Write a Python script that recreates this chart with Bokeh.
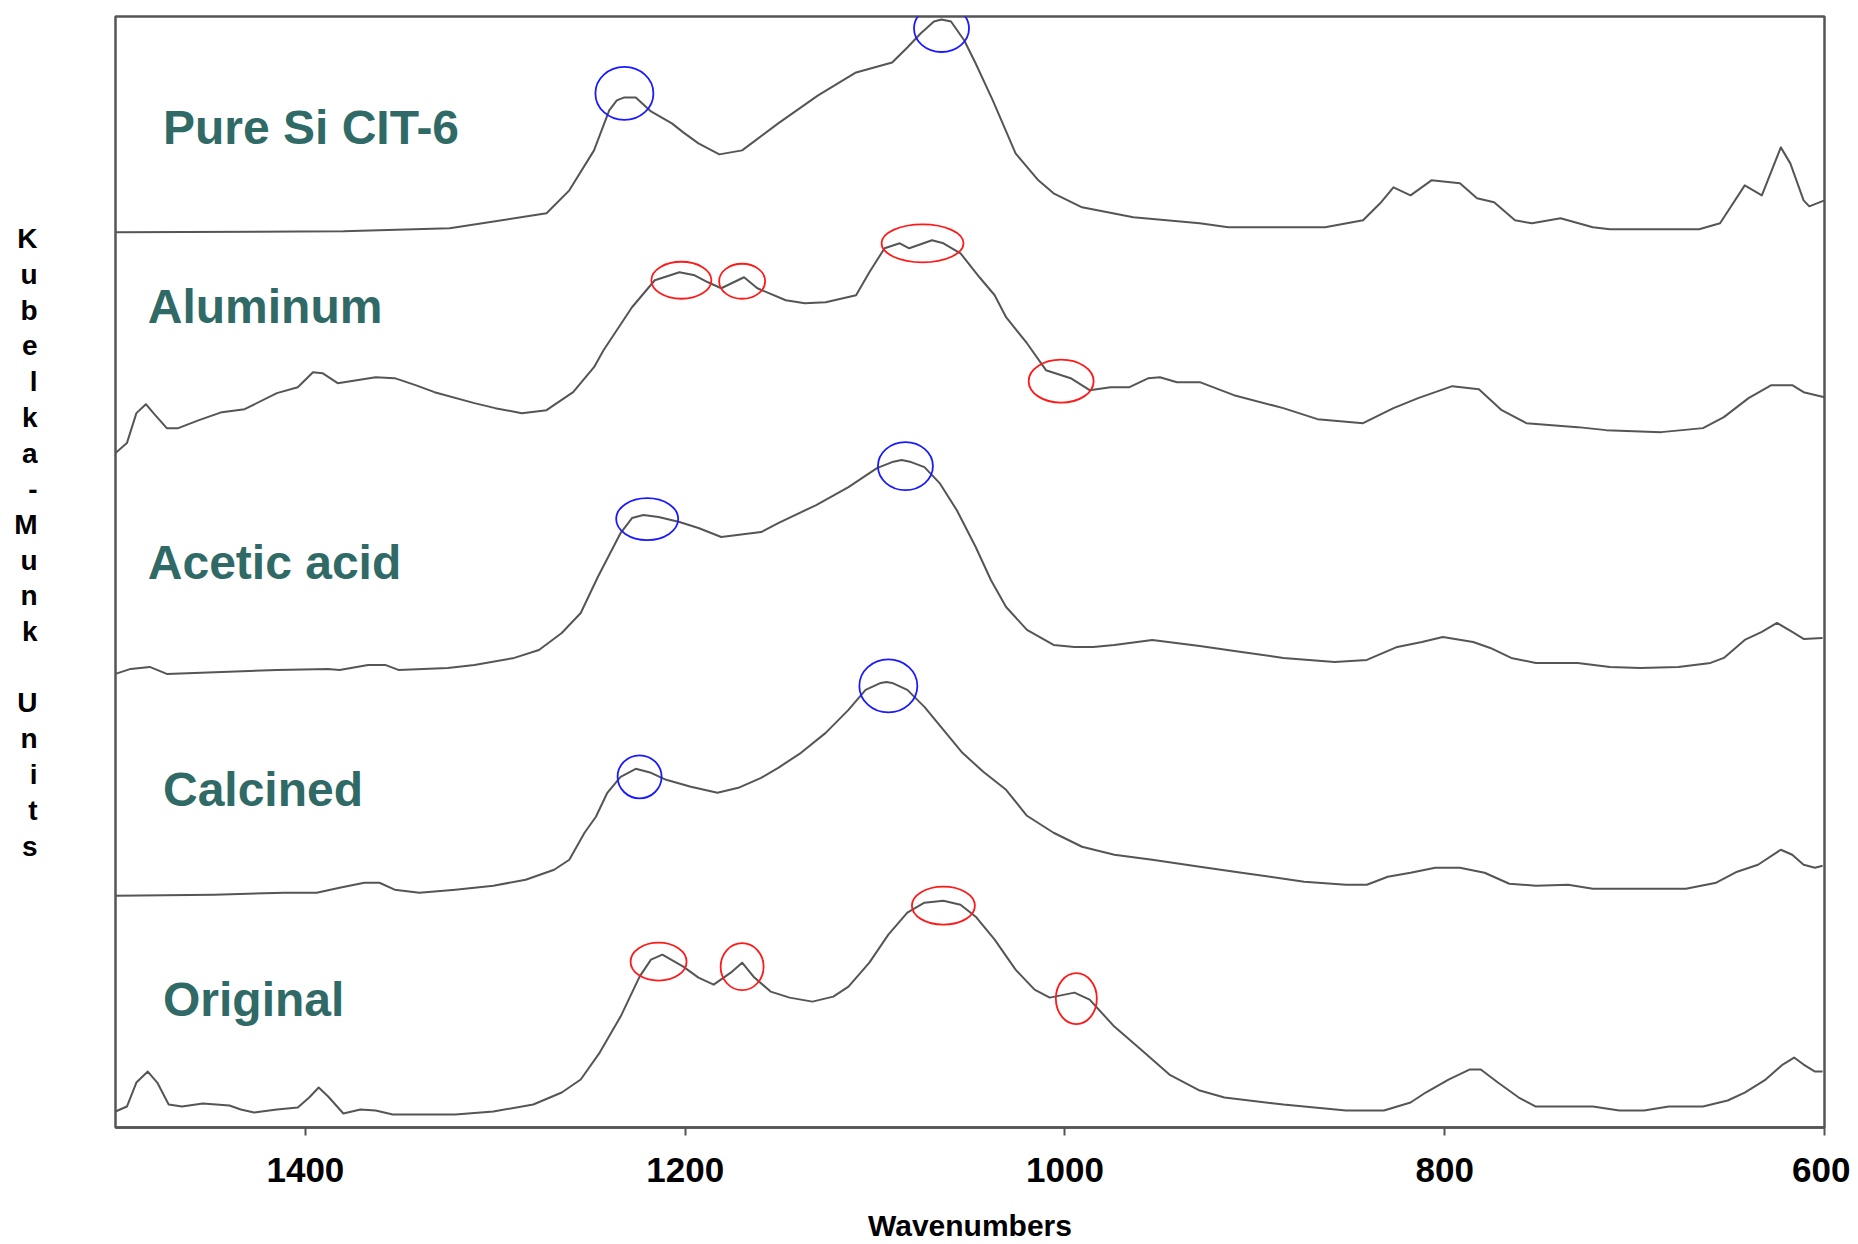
from bokeh.plotting import figure
from bokeh.models import Range1d, FixedTicker, Label
from bokeh.embed import file_html
from bokeh.resources import INLINE

# ---------------- data (wavenumber, stacked Kubelka-Munk display value) ----------------
pure_wn = [1500, 1380, 1324, 1273, 1261, 1248, 1240, 1236, 1232, 1226, 1218, 1207, 1201, 1193, 1182,
           1170, 1151, 1130, 1110, 1091, 1083, 1076, 1069, 1065, 1060, 1053, 1047, 1038, 1026, 1014,
           1006, 991, 964, 929, 914, 863, 843, 834, 827, 818, 807, 792, 783, 774, 763, 754, 739, 722,
           713, 666, 655, 642, 633, 623, 618, 611, 608, 600]
pure_km = [896, 897, 900, 915, 938, 978, 1018, 1028, 1031, 1031, 1017, 1005, 996, 985, 974,
           978, 1005, 1033, 1056, 1066, 1081, 1095, 1107, 1109, 1107, 1088, 1065, 1028, 975, 948,
           935, 921, 911, 905, 901, 901, 908, 925, 941, 933, 948, 945, 930, 926, 908, 905, 910, 901,
           899, 899, 905, 943, 933, 981, 965, 928, 922, 928]

alu_wn = [1500, 1494, 1489, 1484, 1480, 1473, 1467, 1456, 1444, 1432, 1415, 1404, 1396, 1391, 1383,
          1373, 1363, 1353, 1342, 1332, 1311, 1300, 1286, 1273, 1259, 1248, 1243, 1228, 1216, 1203,
          1195, 1188, 1181, 1169, 1162, 1147, 1137, 1126, 1110, 1103, 1095, 1087, 1082, 1070, 1064,
          1055, 1045, 1037, 1031, 1020, 1010, 997, 987, 976, 966, 956, 950, 941, 929, 911, 885, 867,
          843, 827, 814, 796, 782, 770, 757, 730, 715, 686, 664, 653, 640, 628, 617, 611, 600]
alu_km = [675, 685, 715, 724, 715, 700, 700, 708, 716, 719, 735, 741, 756, 755, 745,
          748, 751, 750, 743, 736, 725, 720, 715, 718, 736, 761, 778, 821, 848, 856,
          853, 846, 840, 851, 840, 828, 825, 826, 833, 856, 880, 885, 880, 888, 885,
          875, 851, 833, 811, 785, 758, 750, 738, 741, 741, 750, 751, 746, 746, 733, 720, 709,
          705, 720, 730, 742, 739, 718, 705, 701, 698, 696, 700, 711, 730, 743, 743, 736, 731]

acet_wn = [1500, 1492, 1482, 1473, 1415, 1388, 1382, 1367, 1358, 1351, 1325, 1311, 1290, 1277, 1265,
           1255, 1246, 1234, 1228, 1222, 1214, 1203, 1193, 1181, 1160, 1151, 1131, 1114, 1099, 1091,
           1086, 1081, 1074, 1066, 1057, 1047, 1039, 1031, 1020, 1006, 995, 985, 974, 954, 929, 907,
           885, 858, 841, 825, 812, 801, 785, 776, 765, 752, 730, 713, 697, 677, 660, 653, 642, 633,
           625, 617, 611, 601]
acet_km = [454, 459, 461, 454, 458, 459, 458, 463, 463, 458, 460, 463, 470, 478, 495,
           515, 551, 595, 610, 613, 611, 606, 600, 591, 596, 605, 623, 641, 660, 666,
           668, 666, 661, 645, 618, 581, 548, 521, 498, 483, 481, 481, 483, 488, 482, 476,
           470, 466, 468, 481, 486, 491, 486, 480, 470, 465, 465, 461, 460, 461, 465, 470, 488, 496,
           505, 496, 489, 490]

calc_wn = [1500, 1448, 1411, 1394, 1382, 1369, 1361, 1353, 1340, 1321, 1301, 1284, 1269, 1261,
           1253, 1247, 1241, 1234, 1226, 1218, 1210, 1197, 1183, 1172, 1160, 1151, 1139, 1126, 1114,
           1105, 1097, 1094, 1091, 1083, 1074, 1064, 1054, 1043, 1031, 1020, 1006, 991, 974, 954, 929,
           907, 874, 852, 841, 830, 818, 805, 792, 779, 766, 752, 735, 722, 673, 657, 646, 635, 623,
           617, 611, 605, 601]
calc_km = [232, 233, 235, 235, 240, 245, 245, 238, 235, 238, 242, 248, 258, 268,
           295, 311, 335, 351, 359, 355, 348, 341, 335, 340, 350, 360, 375, 395, 418,
           438, 445, 446, 445, 438, 421, 398, 375, 356, 338, 312, 295, 281, 273, 268, 261,
           255, 246, 243, 243, 251, 255, 260, 260, 255, 244, 242, 243, 239, 239, 245, 256, 263, 278,
           273, 263, 260, 262]

orig_wn = [1500, 1494, 1489, 1483, 1478, 1472, 1465, 1454, 1440, 1434, 1427, 1415, 1404, 1398, 1393,
           1388, 1380, 1371, 1363, 1354, 1321, 1301, 1280, 1265, 1255, 1245, 1234, 1224, 1218, 1212,
           1201, 1193, 1185, 1176, 1170, 1164, 1155, 1145, 1133, 1122, 1114, 1103, 1093, 1083, 1074,
           1064, 1055, 1047, 1037, 1026, 1016, 1008, 995, 987, 974, 960, 945, 929, 916, 885, 852, 832,
           818, 810, 798, 787, 781, 772, 761, 752, 722, 708, 695, 682, 664, 651, 642, 631, 622, 616,
           611, 605, 601]
orig_km = [16, 21, 45, 56, 45, 23, 21, 24, 22, 18, 15, 18, 20, 30, 40,
           31, 14, 18, 17, 13, 13, 16, 23, 35, 48, 75, 111, 151, 168, 173,
           161, 150, 143, 155, 165, 151, 136, 130, 126, 131, 141, 165, 193, 215, 225,
           227, 223, 211, 188, 158, 138, 130, 135, 128, 101, 78, 53, 37, 30, 23, 17, 17,
           25, 35, 48, 58, 58, 45, 30, 21, 21, 17, 17, 21, 21, 27, 35, 48, 63, 70,
           63, 56, 56]

series_names = ["Pure Si CIT-6", "Aluminum", "Acetic acid", "Calcined", "Original"]
label_wn = [1475, 1483, 1483, 1475, 1475]
label_km = [1001, 822, 566, 338, 128]

# highlighted peaks
blue_wn = [1232, 1065, 1220, 1084, 1224, 1093]
blue_km = [1035, 1100, 609, 662, 351, 442]
blue_w = [58, 55, 62, 55, 44, 58]
blue_h = [53, 47, 42, 48, 43, 53]
red_wn = [1202, 1170, 1075, 1002, 1214, 1170, 1064, 994]
red_km = [848, 847, 885, 747, 166, 161, 222, 129]
red_w = [60, 46, 82, 65, 56, 43, 63, 41]
red_h = [37, 35, 38, 43, 38, 47, 38, 51]

x_ticks = [1400, 1200, 1000, 800, 600]
y_title = "Kubelka-Munk Units"
y_title_pos = [890, 854, 818, 783, 747, 711, 675, 639, 604, 568, 532, 496, 460, 425, 389, 353, 317, 281]

# ---------------- figure ----------------
p = figure(width=1850, height=1244, x_range=Range1d(1500, 600), y_range=Range1d(0, 1112),
           output_backend="svg", toolbar_location=None,
           min_border_left=115, min_border_right=26, min_border_top=16, min_border_bottom=116)
p.grid.visible = False
p.outline_line_color = "#555555"
p.outline_line_width = 2.5
p.background_fill_color = "white"
p.border_fill_color = "white"

curve_color = "#555555"
for xs, ys in [(pure_wn, pure_km), (alu_wn, alu_km), (acet_wn, acet_km), (calc_wn, calc_km), (orig_wn, orig_km)]:
    p.line(xs, ys, line_color=curve_color, line_width=2, line_join="round")

p.ellipse(x=blue_wn, y=blue_km, width=blue_w, height=blue_h, width_units="screen", height_units="screen",
          fill_alpha=0, line_color="#1a1aff", line_width=1.8)
p.ellipse(x=red_wn, y=red_km, width=red_w, height=red_h, width_units="screen", height_units="screen",
          fill_alpha=0, line_color="#ff1a1a", line_width=1.8)

for name, lx, ly in zip(series_names, label_wn, label_km):
    p.add_layout(Label(x=lx, y=ly, text=name, text_font="Liberation Sans", text_font_style="bold",
                       text_font_size="48px", text_color="#2f6a67", text_baseline="middle",
                       text_align="left"))

# vertical stacked y title, drawn as the labels of the left axis
yax = p.yaxis[0]
pairs = [(pos, ch) for pos, ch in zip(y_title_pos, y_title) if ch != " "]
yax.ticker = FixedTicker(ticks=[pos for pos, _ in pairs])
yax.major_label_overrides = {pos: ch for pos, ch in pairs}
yax.minor_tick_line_color = None
yax.major_tick_line_color = None
yax.major_tick_in = 0
yax.major_tick_out = 0
yax.axis_line_color = None
yax.major_label_standoff = 78
yax.major_label_text_font = "Liberation Sans"
yax.major_label_text_font_style = "bold"
yax.major_label_text_font_size = "28px"
yax.major_label_text_color = "black"
yax.major_label_text_align = "center"

ax = p.xaxis[0]
ax.ticker = FixedTicker(ticks=x_ticks)
ax.minor_tick_line_color = None
ax.major_tick_in = 0
ax.major_tick_out = 8
ax.major_tick_line_color = "#555555"
ax.major_tick_line_width = 2
ax.axis_line_color = "#555555"
ax.axis_line_width = 2.5
ax.major_label_text_font = "Liberation Sans"
ax.major_label_text_font_style = "bold"
ax.major_label_text_font_size = "35px"
ax.major_label_text_color = "black"
ax.major_label_standoff = 22
ax.axis_label = "Wavenumbers"
ax.axis_label_text_font = "Liberation Sans"
ax.axis_label_text_font_style = "bold"
ax.axis_label_text_font_size = "30px"
ax.axis_label_text_color = "black"
ax.axis_label_standoff = 24

open("out.html", "w").write(file_html(p, INLINE))
